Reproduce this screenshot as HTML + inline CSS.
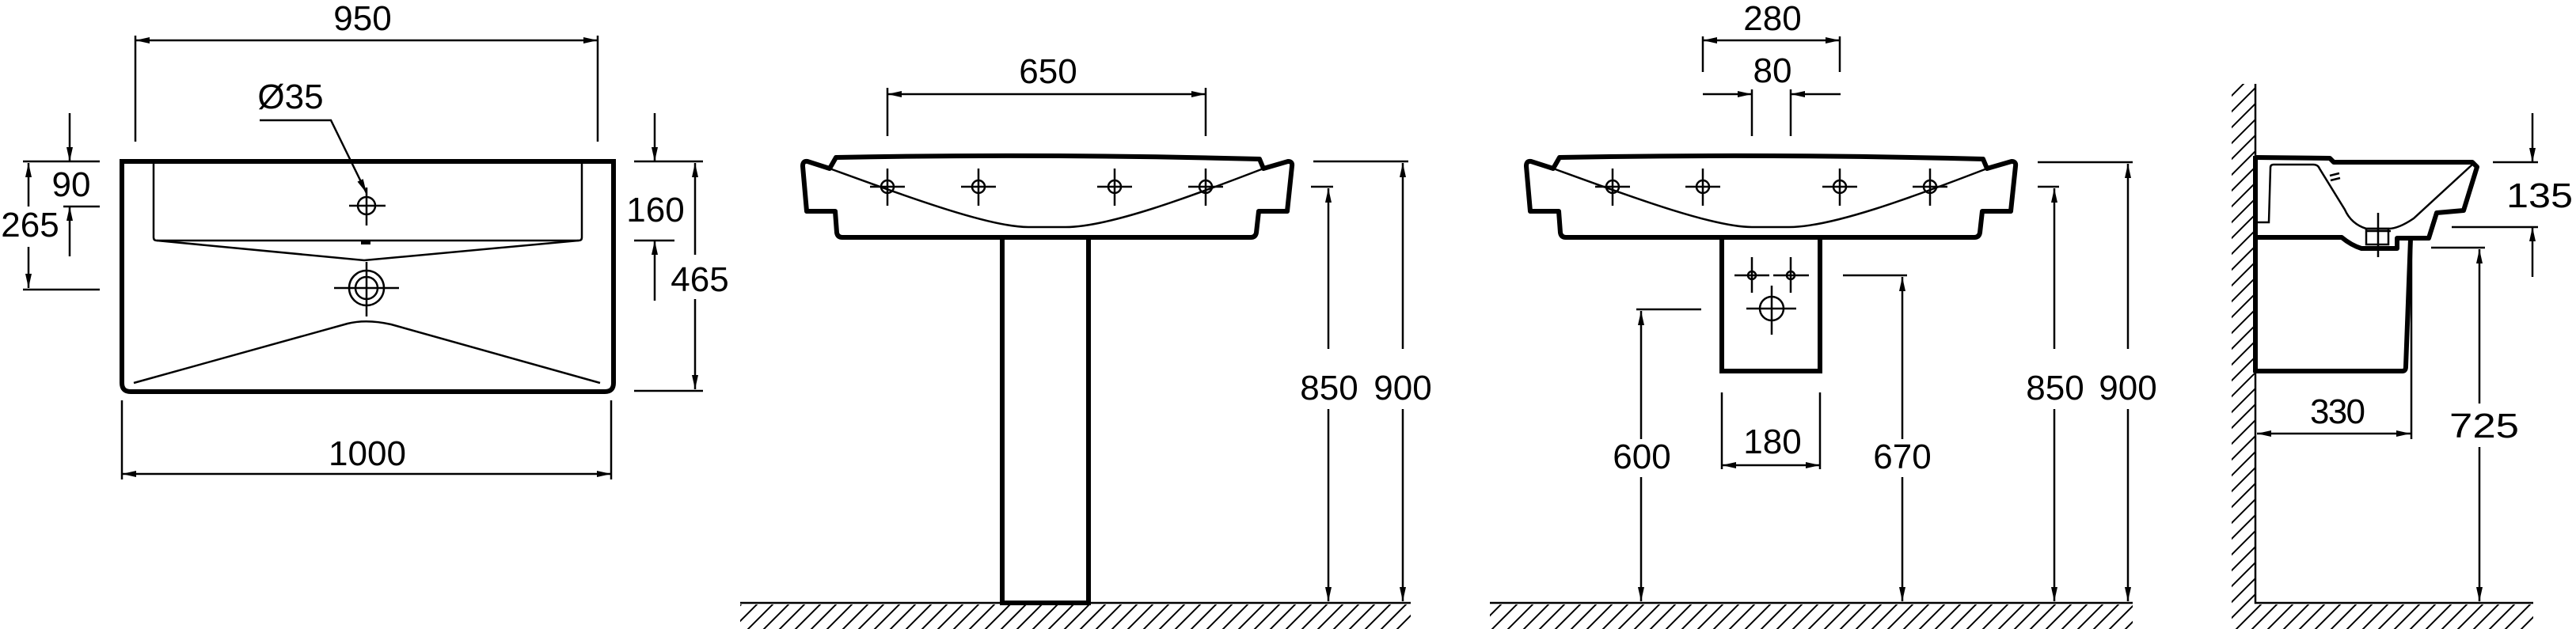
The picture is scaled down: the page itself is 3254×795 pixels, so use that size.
<!DOCTYPE html>
<html><head><meta charset="utf-8"><style>
html,body{margin:0;padding:0;background:#fff;}
svg{display:block;}
text{font-family:"Liberation Sans",Arial,sans-serif;font-size:44px;fill:#000;text-anchor:middle;}
</style></head><body>
<svg width="3254" height="795" viewBox="0 0 3254 795" xmlns="http://www.w3.org/2000/svg">
<defs>
<marker id="a" markerUnits="userSpaceOnUse" markerWidth="20" markerHeight="10" refX="18" refY="4" orient="auto-start-reverse"><path d="M0,0 L18,4 L0,8 Z" fill="#000"/></marker>
<pattern id="h" patternUnits="userSpaceOnUse" width="20" height="20"><path d="M0,20 L20,0 M-5,5 L5,-5 M15,25 L25,15" stroke="#000" stroke-width="2"/></pattern>
<g id="fb">
<path d="M1056,199 Q1320,194 1591,201 L1596,213 L1627,204 Q1633,204 1632,210 L1626,267 L1590,267 L1587,294 Q1586,300 1580,300 L1064,300 Q1058,300 1057,294 L1055,267 L1019,267 L1014,210 Q1014,203 1020,204 L1048,213 Z" fill="none" stroke="#000" stroke-width="6" stroke-linejoin="round"/>
<path d="M1048,213 C1150,250 1250,287 1299,287 L1346,287 C1400,287 1500,250 1596,213" fill="none" stroke="#000" stroke-width="2.5"/>
</g>
<g id="th"><circle cx="0" cy="0" r="8" fill="none" stroke="#000" stroke-width="2.5"/><path d="M-22,0 L22,0 M0,-23 L0,24" stroke="#000" stroke-width="2.5"/></g>
</defs>
<g fill="none" stroke="#000" stroke-width="2.5">
<path d="M154,204 L775,204 L775,484 Q775,495 764,495 L165,495 Q154,495 154,484 Z" stroke-width="6"/>
<path d="M194,206 L194,300 Q194,304 198,304 L731,304 Q735,304 735,300 L735,206"/>
<path d="M198,304 L460,329 L731,304"/>
<path d="M456,307 L468,307" stroke-width="4"/>
<path d="M169,484 L439,409 Q463,403 494,410 L758,484"/>
<circle cx="463" cy="260" r="11"/>
<path d="M441,260 L487,260 M463,237 L463,285"/>
<circle cx="463" cy="364" r="22"/><circle cx="463" cy="364" r="14"/>
<path d="M422,364 L504,364 M463,331 L463,400"/>
<path d="M328,152 L418,152 L463,244" marker-end="url(#a)"/>
<path d="M171,45 L171,179 M755,45 L755,179"/>
<path d="M171,51 L755,51" marker-start="url(#a)" marker-end="url(#a)"/>
<path d="M154,506 L154,606 M772,506 L772,606"/>
<path d="M154,599 L772,599" marker-start="url(#a)" marker-end="url(#a)"/>
<path d="M29,204 L126,204 M80,261 L126,261 M29,366 L126,366"/>
<path d="M88,143 L88,204" marker-end="url(#a)"/>
<path d="M88,324 L88,261" marker-end="url(#a)"/>
<path d="M36,261 L36,206" marker-end="url(#a)"/>
<path d="M36,312 L36,364" marker-end="url(#a)"/>
<path d="M801,204 L888,204 M801,304 L852,304 M801,494 L888,494"/>
<path d="M827,143 L827,204" marker-end="url(#a)"/>
<path d="M827,380 L827,304" marker-end="url(#a)"/>
<path d="M878,322 L878,206" marker-end="url(#a)"/>
<path d="M878,378 L878,492" marker-end="url(#a)"/>
<use href="#fb"/>
<use href="#th" x="1121" y="236"/><use href="#th" x="1236" y="236"/><use href="#th" x="1408" y="236"/><use href="#th" x="1523" y="236"/>
<path d="M1266,302 L1266,762 L1375,762 L1375,302" stroke-width="6"/>
<path d="M1121,111 L1121,172 M1523,111 L1523,172"/>
<path d="M1121,119 L1523,119" marker-start="url(#a)" marker-end="url(#a)"/>
<path d="M1656,236 L1684,236 M1659,204 L1779,204"/>
<path d="M1678,441 L1678,238" marker-end="url(#a)"/>
<path d="M1678,517 L1678,760" marker-end="url(#a)"/>
<path d="M1772,441 L1772,206" marker-end="url(#a)"/>
<path d="M1772,517 L1772,760" marker-end="url(#a)"/>
<path d="M935,762 L1782,762"/>
<use href="#fb" x="914"/>
<use href="#th" x="2037" y="236"/><use href="#th" x="2151" y="236"/><use href="#th" x="2324" y="236"/><use href="#th" x="2438" y="236"/>
<path d="M2175,302 L2175,469 L2299,469 L2299,302" stroke-width="6"/>
<circle cx="2213" cy="348" r="5"/><circle cx="2262" cy="348" r="5"/>
<path d="M2191,348 L2235,348 M2240,348 L2285,348 M2213,325 L2213,370 M2262,325 L2262,370"/>
<circle cx="2238" cy="390" r="15"/>
<path d="M2206,390 L2269,390 M2238,361 L2238,423"/>
<path d="M2151,46 L2151,91 M2324,46 L2324,91"/>
<path d="M2151,51 L2324,51" marker-start="url(#a)" marker-end="url(#a)"/>
<path d="M2213,113 L2213,172 M2262,113 L2262,172"/>
<path d="M2151,119 L2213,119" marker-end="url(#a)"/>
<path d="M2325,119 L2262,119" marker-end="url(#a)"/>
<path d="M2067,391 L2149,391 M2328,348 L2409,348"/>
<path d="M2073,555 L2073,393" marker-end="url(#a)"/>
<path d="M2073,603 L2073,760" marker-end="url(#a)"/>
<path d="M2403,555 L2403,350" marker-end="url(#a)"/>
<path d="M2403,603 L2403,760" marker-end="url(#a)"/>
<path d="M2175,496 L2175,593 M2299,496 L2299,593"/>
<path d="M2175,588 L2299,588" marker-start="url(#a)" marker-end="url(#a)"/>
<path d="M2574,236 L2601,236 M2574,205 L2694,205"/>
<path d="M2595,441 L2595,238" marker-end="url(#a)"/>
<path d="M2595,517 L2595,760" marker-end="url(#a)"/>
<path d="M2688,441 L2688,207" marker-end="url(#a)"/>
<path d="M2688,517 L2688,760" marker-end="url(#a)"/>
<path d="M1882,762 L2694,762"/>
<path d="M2849,106 L2849,762 L3200,762"/>
<path d="M2849,199 L2943,200 L2948,205 L3123,205 L3129,211 L3112,266 L3078,269 L3068,301 L3028,301 L3028,314 L2983,314 Q2970,310 2958,300 L2849,300" stroke-width="6" stroke-linejoin="round"/>
<path d="M2849,197 L2849,471" stroke-width="6"/>
<path d="M2849,469 L3035,469 Q3039,469 3039,463 L3045,302" stroke-width="6"/>
<path d="M3046,302 L3046,555"/>
<path d="M3123,208 L3049,276 Q3030,289 3017,289 L2989,289 Q2970,283 2962,265 L2930,213 Q2928,208 2922,208 L2872,208 Q2868,208 2868,212 L2866,281 L2849,281"/>
<rect x="2989" y="289" width="28" height="20"/>
<path d="M3004,269 L3004,325 M2988,292 L3020,292"/>
<path d="M2943,222 L2955,219 M2944,228 L2956,225"/>
<path d="M3149,205 L3206,205 M3097,287 L3206,287"/>
<path d="M3199,143 L3199,205" marker-end="url(#a)"/>
<path d="M3199,350 L3199,287" marker-end="url(#a)"/>
<path d="M3071,313 L3139,313"/>
<path d="M3132,510 L3132,315" marker-end="url(#a)"/>
<path d="M3132,565 L3132,760" marker-end="url(#a)"/>
<path d="M2851,548 L3045,548" marker-start="url(#a)" marker-end="url(#a)"/>
</g>
<rect x="935" y="764" width="847" height="31" fill="url(#h)"/>
<rect x="1882" y="764" width="812" height="31" fill="url(#h)"/>
<rect x="2819" y="764" width="381" height="31" fill="url(#h)"/>
<rect x="2819" y="106" width="29" height="658" fill="url(#h)"/>
<text x="458" y="38">950</text>
<text x="367" y="137">Ø35</text>
<text x="464" y="588">1000</text>
<text x="90" y="248">90</text>
<text x="38" y="299">265</text>
<text x="828" y="280">160</text>
<text x="884" y="368">465</text>
<text x="1324" y="105">650</text>
<text x="1679" y="505">850</text>
<text x="1772" y="505">900</text>
<text x="2239" y="38">280</text>
<text x="2239" y="104">80</text>
<text x="2074" y="592">600</text>
<text x="2403" y="592">670</text>
<text x="2239" y="573">180</text>
<text x="2596" y="505">850</text>
<text x="2688" y="505">900</text>
<text x="3208" y="262" textLength="84" lengthAdjust="spacingAndGlyphs">135</text>
<text x="2953" y="535" textLength="70">330</text>
<text x="3138" y="553" textLength="88" lengthAdjust="spacingAndGlyphs">725</text>
</svg>
</body></html>
